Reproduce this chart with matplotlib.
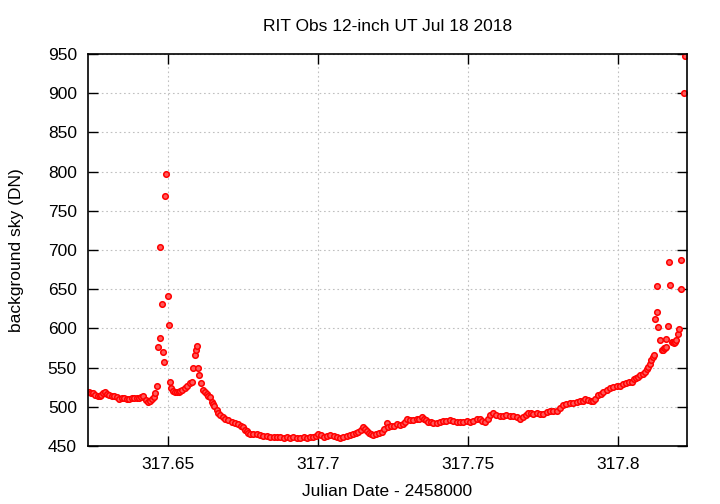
import matplotlib
matplotlib.use('Agg')
import matplotlib.pyplot as plt

plt.rcParams['font.family'] = ['Liberation Sans', 'DejaVu Sans']

# julian date - 2458000, and background sky (DN)
jd = [317.6236, 317.6243, 317.6249, 317.6257, 317.6266, 317.6272, 317.6277, 317.6283,
      317.6291, 317.6297, 317.6304, 317.6313, 317.6321, 317.6330, 317.6338, 317.6347,
      317.6354, 317.6363, 317.6371, 317.6380, 317.6388, 317.6397, 317.6404, 317.6410,
      317.6418, 317.6425, 317.6432, 317.6440, 317.6447, 317.6453, 317.6458, 317.6464,
      317.6468, 317.6472, 317.6474, 317.6479, 317.6483, 317.6487, 317.6491, 317.6494,
      317.6499, 317.6503, 317.6506, 317.6510, 317.6518, 317.6523, 317.6529, 317.6535,
      317.6540, 317.6548, 317.6555, 317.6564, 317.6572, 317.6579, 317.6584, 317.6590,
      317.6593, 317.6598, 317.6601, 317.6604, 317.6610, 317.6618, 317.6623, 317.6629,
      317.6634, 317.6640, 317.6646, 317.6650, 317.6653, 317.6662, 317.6668, 317.6673,
      317.6682, 317.6690, 317.6700, 317.6712, 317.6723, 317.6734, 317.6743, 317.6751,
      317.6757, 317.6762, 317.6768, 317.6773, 317.6783, 317.6796, 317.6807, 317.6818,
      317.6829, 317.6840, 317.6852, 317.6862, 317.6873, 317.6885, 317.6897, 317.6907,
      317.6918, 317.6930, 317.6940, 317.6952, 317.6963, 317.6973, 317.6983, 317.6993,
      317.7001, 317.7010, 317.7020, 317.7029, 317.7040, 317.7052, 317.7062, 317.7073,
      317.7085, 317.7097, 317.7107, 317.7118, 317.7127, 317.7134, 317.7143, 317.7151,
      317.7157, 317.7162, 317.7170, 317.7177, 317.7184, 317.7193, 317.7203, 317.7212,
      317.7220, 317.7229, 317.7234, 317.7242, 317.7252, 317.7262, 317.7273, 317.7284,
      317.7290, 317.7296, 317.7307, 317.7318, 317.7330, 317.7338, 317.7346, 317.7353,
      317.7360, 317.7368, 317.7377, 317.7385, 317.7396, 317.7407, 317.7418, 317.7428,
      317.7440, 317.7450, 317.7462, 317.7473, 317.7484, 317.7496, 317.7507, 317.7517,
      317.7529, 317.7540, 317.7548, 317.7557, 317.7567, 317.7575, 317.7584, 317.7595,
      317.7607, 317.7618, 317.7628, 317.7640, 317.7651, 317.7663, 317.7673, 317.7683,
      317.7692, 317.7701, 317.7710, 317.7718, 317.7729, 317.7740, 317.7751, 317.7762,
      317.7773, 317.7783, 317.7796, 317.7807, 317.7818, 317.7828, 317.7840, 317.7851,
      317.7862, 317.7873, 317.7883, 317.7890, 317.7900, 317.7910, 317.7918, 317.7925,
      317.7934, 317.7942, 317.7951, 317.7962, 317.7973, 317.7985, 317.7996, 317.8007,
      317.8018, 317.8028, 317.8037, 317.8046, 317.8055, 317.8062, 317.8068, 317.8075,
      317.8083, 317.8090, 317.8096, 317.8101, 317.8107, 317.8112, 317.8117, 317.8120,
      317.8123, 317.8129, 317.8131, 317.8134, 317.8140, 317.8146, 317.8150, 317.8153,
      317.8157, 317.8160, 317.8162, 317.8167, 317.8169, 317.8173, 317.8179, 317.8183,
      317.8187, 317.8190, 317.8193, 317.8201, 317.8204, 317.8209, 317.8212, 317.8220,
      317.8223]
sky = [519, 518, 517, 515, 514, 514, 515, 517,
       519, 516, 515, 514, 514, 512, 509.5, 511,
       511, 510, 509.5, 511, 511, 511, 511, 512,
       514, 509, 505.7, 507, 509.5, 513, 517, 526.5,
       576, 587.4, 703.8, 631.5, 570, 557, 768.5, 797,
       641, 604, 532, 524, 520, 519, 518.5, 519,
       520, 521, 524, 527, 530, 532, 549, 566,
       573, 578, 549, 540, 530, 521, 519, 516,
       514, 513, 506.5, 503, 501, 496, 492, 489.5,
       487, 485, 483, 481, 479, 478, 476, 474.6,
       471, 469.5, 466.5, 465, 465, 465, 464, 463,
       463, 462, 461, 461, 461, 460, 461, 460,
       461, 460, 460.6, 461, 460, 461, 462, 463,
       465, 464, 462, 463, 464, 463, 462, 460,
       461, 463, 464, 465, 467, 468, 471, 474.6,
       472, 469.5, 467, 465, 464, 465, 466, 468,
       472, 479, 474, 475, 476, 478, 477, 478,
       481, 484, 483, 483, 484, 485, 486.6, 485,
       483, 481, 480, 479, 479.7, 481, 482, 482,
       483, 482, 481, 480, 481, 482, 481, 482,
       484, 484, 482, 481, 485, 489, 491.7, 489,
       488, 488, 489, 488, 488, 487, 485, 487,
       490, 491.7, 492, 491, 492.5, 491, 491, 493,
       495, 494, 495, 498, 502, 504, 505, 505,
       506.5, 507, 508, 509.5, 509, 508, 508, 510,
       515, 516, 519, 521, 523.6, 525, 526.5, 527,
       529, 530, 532, 531, 535, 537, 538, 540,
       542, 545, 548, 551, 555, 560, 563, 566,
       611.6, 621, 654, 602, 585, 572, 573, 574.6,
       575, 576, 587, 603, 684.7, 655, 583, 582,
       581, 582, 585, 593, 599, 687, 650, 900.6,
       948]

xticks = [317.65, 317.7, 317.75, 317.8]
xticklabels = ['317.65', '317.7', '317.75', '317.8']
yticks = [450, 500, 550, 600, 650, 700, 750, 800, 850, 900, 950]

fig = plt.figure(figsize=(7.2, 5.04), dpi=100)
ax = fig.add_axes([0.1222, 0.1151, 0.8318, 0.7778])

ax.plot(jd, sky, linestyle='none', marker='o', markersize=4.0,
        markerfacecolor='#ff5a5a', markeredgecolor='#ff0000', markeredgewidth=1.1)

ax.set_xlim(317.6233, 317.823)
ax.set_ylim(450, 950)
ax.set_xticks(xticks)
ax.set_xticklabels(xticklabels)
ax.set_yticks(yticks)

ax.grid(True, color='#c0c0c0', linestyle=(0, (1.5, 2.5)), linewidth=0.8)
ax.tick_params(direction='in', length=7, width=1, top=True, right=True,
               labelsize=12.5, pad=8)
for s in ax.spines.values():
    s.set_linewidth(1.2)

ax.set_title('RIT Obs 12-inch UT Jul 18 2018', fontsize=12.5, y=1.069, va='center', pad=0)
ax.set_xlabel('Julian Date - 2458000', fontsize=12.5)
ax.xaxis.set_label_coords(0.5, -0.115)
ax.xaxis.label.set_va('center')
ax.set_ylabel('background sky (DN)', fontsize=12.5)
ax.yaxis.set_label_coords(-0.12, 0.5)
ax.yaxis.label.set_va('center')

fig.savefig('out.png', dpi=100)
